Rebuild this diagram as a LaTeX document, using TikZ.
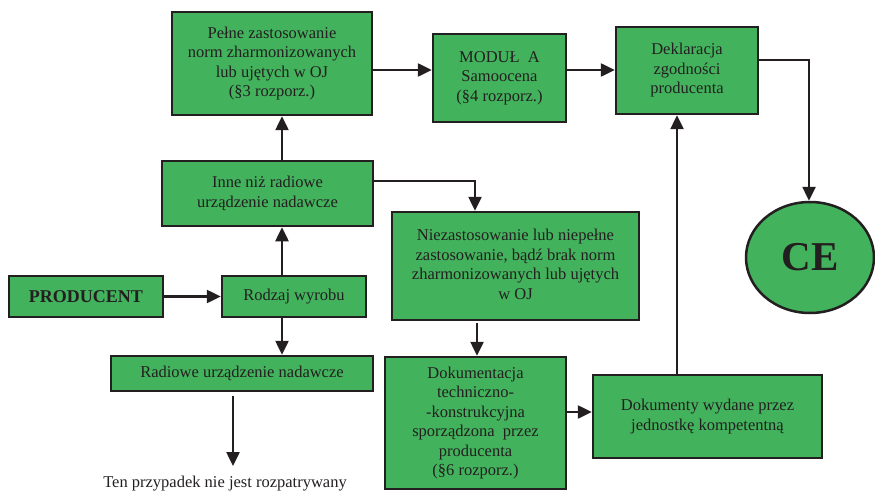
\documentclass[tikz,border=0pt]{standalone}
\usepackage{fontspec}
\setmainfont{Liberation Serif}
\usetikzlibrary{arrows.meta,shapes.geometric}
\definecolor{boxgreen}{RGB}{66,178,92}
\definecolor{ink}{RGB}{35,31,32}
\begin{document}
\begin{tikzpicture}[x=1pt,y=-1pt,
  box/.style={draw=ink, fill=boxgreen, line width=2.5pt, inner sep=0pt, align=center,
    text=ink, font=\fontsize{16.5}{19.5}\selectfont},
  arr/.style={draw=ink, line width=2.5pt, -{Triangle[length=14pt,width=13pt]}},
  ln/.style={draw=ink, line width=2.5pt}]
\useasboundingbox (0,0) rectangle (875,492);
% nodes
\node[box, minimum width=200pt, minimum height=103pt] (pelne) at (272,63.5)
  {Pełne zastosowanie\\norm zharmonizowanych\\lub ujętych w OJ\\(§3 rozporz.)};
\node[box, minimum width=133pt, minimum height=88pt] (modul) at (499.5,78)
  {MODUŁ~ A\\Samoocena\\(§4 rozporz.)};
\node[box, minimum width=142pt, minimum height=87pt] (dekl) at (687,70.5)
  {\raisebox{4pt}{\begin{tabular}{@{}c@{}}Deklaracja\\zgodności\\producenta\end{tabular}}};
\node[box, ellipse, minimum width=128pt, minimum height=111pt,
  font=\fontsize{41}{41}\selectfont\bfseries] (ce) at (810,257.5) {CE};
\node[box, minimum width=211pt, minimum height=65pt] (inne) at (267.5,193.5)
  {Inne niż radiowe\\urządzenie nadawcze};
\node[box, minimum width=154pt, minimum height=41pt,
  font=\fontsize{18}{20}\selectfont\bfseries] (prod) at (86,296.5) {PRODUCENT};
\node[box, minimum width=144pt, minimum height=41pt] (rodzaj) at (294,296.5) {Rodzaj wyrobu};
\node[box, minimum width=262pt, minimum height=35pt] (radio) at (242,373.5)
  {Radiowe urządzenie nadawcze};
\node[box, minimum width=247pt, minimum height=108pt] (niez) at (515.5,266)
  {\raisebox{6pt}{\begin{tabular}{@{}c@{}}Niezastosowanie lub niepełne\\zastosowanie, bądź brak norm\\zharmonizowanych lub ujętych\\w OJ\end{tabular}}};
\node[box, minimum width=181pt, minimum height=132pt] (dokum) at (475.5,423)
  {Dokumentacja\\techniczno-\\-konstrukcyjna\\sporządzona~ przez\\producenta\\(§6 rozporz.)};
\node[box, minimum width=229pt, minimum height=83pt] (dokw) at (707.5,416.5)
  {\raisebox{5pt}{\begin{tabular}{@{}c@{}}Dokumenty wydane przez\\jednostkę kompetentną\end{tabular}}};
\node[inner sep=0pt, text=ink, font=\fontsize{16.5}{19.5}\selectfont] (ten) at (225,484)
  {Ten przypadek nie jest rozpatrywany};
% helper coordinates
\coordinate (vx) at (282,0);
\coordinate (vx2) at (475,0);
\coordinate (vx3) at (477,0);
\coordinate (vx4) at (677,0);
\coordinate (vx5) at (233,0);
\coordinate (vce) at (809,0);
\coordinate (hy) at (0,70);
\coordinate (hy60) at (0,60);
\coordinate (hy181) at (0,181);
\coordinate (hy412) at (0,412);
\coordinate (hyn) at (0,323);
\coordinate (hyr) at (0,396);
\coordinate (hyt) at (0,466);
% connectors
\draw[arr] (prod.east) -- (rodzaj.west);
\draw[arr] (rodzaj.north -| vx) -- (inne.south -| vx);
\draw[arr] (rodzaj.south -| vx) -- (radio.north -| vx);
\draw[arr] (inne.north -| vx) -- (pelne.south -| vx);
\draw[arr] (pelne.east |- hy) -- (modul.west |- hy);
\draw[arr] (modul.east |- hy) -- (dekl.west |- hy);
\draw[arr] (dekl.east |- hy60) -| (ce.north -| vce);
\draw[arr] (inne.east |- hy181) -| (niez.north -| vx2);
\draw[arr] (vx3 |- hyn) -- (dokum.north -| vx3);
\draw[arr] (dokum.east |- hy412) -- (dokw.west |- hy412);
\draw[arr] (dokw.north -| vx4) -- (dekl.south -| vx4);
\draw[arr] (vx5 |- hyr) -- (vx5 |- hyt);
\end{tikzpicture}
\end{document}
